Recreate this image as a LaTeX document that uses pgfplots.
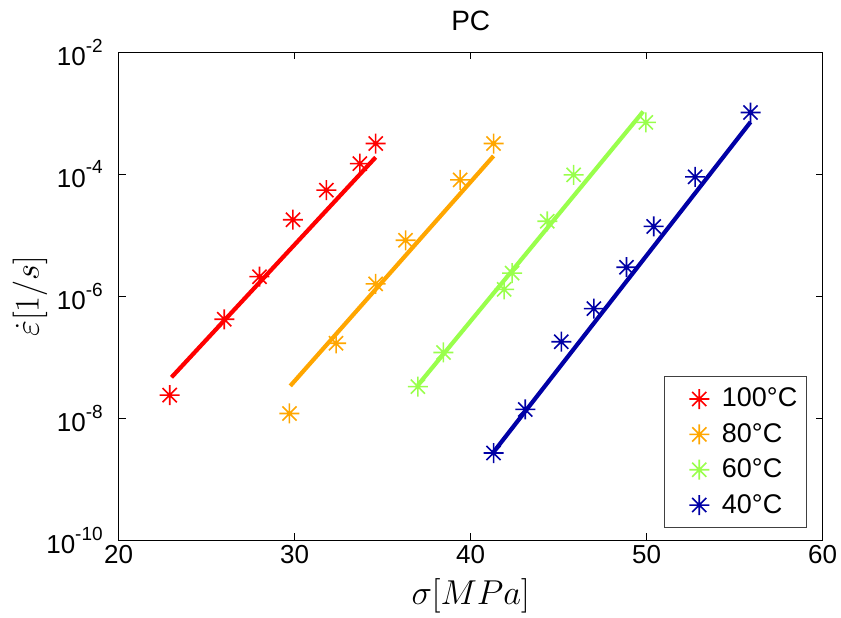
\documentclass[border=0pt]{standalone}
\usepackage{fontspec}
\setmainfont{Liberation Sans}
\usepackage{pgfplots}
\pgfplotsset{compat=1.18}
\definecolor{cred}{rgb}{1,0,0}
\definecolor{corange}{rgb}{1,0.65,0}
\definecolor{cgreen}{rgb}{0.6,1,0.3}
\definecolor{cblue}{rgb}{0,0,0.65}
\pgfdeclareplotmark{star8}{%
 \pgfpathmoveto{\pgfqpoint{0pt}{\pgfplotmarksize}}%
 \pgfpathlineto{\pgfqpoint{0pt}{-\pgfplotmarksize}}%
 \pgfpathmoveto{\pgfqpoint{\pgfplotmarksize}{0pt}}%
 \pgfpathlineto{\pgfqpoint{-\pgfplotmarksize}{0pt}}%
 \pgfpathmoveto{\pgfqpoint{.7071\pgfplotmarksize}{.7071\pgfplotmarksize}}%
 \pgfpathlineto{\pgfqpoint{-.7071\pgfplotmarksize}{-.7071\pgfplotmarksize}}%
 \pgfpathmoveto{\pgfqpoint{-.7071\pgfplotmarksize}{.7071\pgfplotmarksize}}%
 \pgfpathlineto{\pgfqpoint{.7071\pgfplotmarksize}{-.7071\pgfplotmarksize}}%
 \pgfusepathqstroke}
\newcommand{\tp}[1]{10\raisebox{6.8pt}{\fontsize{9.5}{10}\selectfont #1}}
\begin{document}
\begin{tikzpicture}
\begin{axis}[
 scale only axis, width=352pt, height=244pt,
 xmin=20, xmax=60, ymin=1e-10, ymax=1e-2, ymode=log,
 xtick={20,30,40,50,60}, xticklabels={20,30,40,50,60},
 ytick={1e-10,1e-8,1e-6,1e-4,1e-2},
 yticklabels={\tp{-10},\tp{-8},\tp{-6},\tp{-4},\tp{-2}},
 yminorticks=false, xminorticks=false,
 tick align=inside, major tick length=3.5pt,
 axis line style={line width=0.75pt},
 every tick/.style={black, line width=0.75pt},
 tick label style={font=\fontsize{13}{15}\selectfont},
 xticklabel style={anchor=base, yshift=-11.5pt},
 yticklabel style={anchor=east, inner sep=0pt, xshift=-7.8pt},
 title={PC},
 title style={at={(0.5,1)}, anchor=base, yshift=5pt, font=\fontsize{14}{16}\selectfont},
 xlabel={$\sigma[MPa]$},
 xlabel style={at={(axis description cs:0.5,0)}, anchor=center, yshift=-28pt, font=\fontsize{16}{18}\selectfont},
 ylabel={$\dot{\varepsilon}[1/s]$},
 ylabel style={at={(axis description cs:0,0.5)}, anchor=center, yshift=44.35pt, font=\fontsize{16}{18}\selectfont},
 legend style={at={(0.977,0.0246)}, anchor=south east,
   draw=black!75, line width=0.5pt, fill=white, inner xsep=2pt, inner ysep=3.9pt,
   row sep=2.75pt, font=\fontsize{13.5}{15}\selectfont, cells={anchor=west},
   nodes={inner xsep=2.35pt, inner ysep=2pt},
   /tikz/every odd column/.append style={column sep=0pt}},
 legend image code/.code={\path[draw=none,fill=none] (-15.5pt,-5pt) rectangle (9pt,5pt); \draw plot coordinates {(0pt,0pt)};},
 mark size=5pt,
]
% fitted lines
\addplot[cred, line width=2.1pt, forget plot] coordinates {(23.0,4.7e-8) (34.6,1.9e-4)};
\addplot[corange, line width=2.1pt, forget plot] coordinates {(29.75,3.4e-8) (41.3,2.0e-4)};
\addplot[cgreen, line width=2.1pt, forget plot] coordinates {(37.0,3.5e-8) (49.8,1.07e-3)};
\addplot[cblue, line width=2.1pt, forget plot] coordinates {(41.3,2.8e-9) (55.9,7.2e-4)};
% data
\addplot[cred, only marks, mark=star8, mark options={line width=0.8pt}] coordinates {
 (22.9,2.4e-8) (26.0,4.2e-7) (28.0,2.1e-6) (29.9,1.8e-5) (31.8,5.5e-5) (33.7,1.5e-4) (34.6,3.2e-4)};
\addlegendentry{100°C}
\addplot[corange, only marks, mark=star8, mark options={line width=0.8pt}] coordinates {
 (29.7,1.2e-8) (32.35,1.7e-7) (34.6,1.6e-6) (36.3,8.3e-6) (39.4,8.1e-5) (41.3,3.2e-4)};
\addlegendentry{80°C}
\addplot[cgreen, only marks, mark=star8, mark options={line width=0.8pt}] coordinates {
 (37.0,3.3e-8) (38.45,1.2e-7) (41.9,1.3e-6) (42.35,2.4e-6) (44.35,1.7e-5) (45.85,9.8e-5) (49.95,7.1e-4)};
\addlegendentry{60°C}
\addplot[cblue, only marks, mark=star8, mark options={line width=0.8pt}] coordinates {
 (41.3,2.7e-9) (43.1,1.4e-8) (45.15,1.8e-7) (47.0,6.3e-7) (48.85,3.0e-6) (50.4,1.4e-5) (52.75,9.1e-5) (55.9,1.03e-3)};
\addlegendentry{40°C}
\end{axis}
\pgfresetboundingbox
\path (current axis.south west) ++(-59.35pt,-38.35pt) rectangle ++(420.5pt,308.5pt);
\end{tikzpicture}
\end{document}
